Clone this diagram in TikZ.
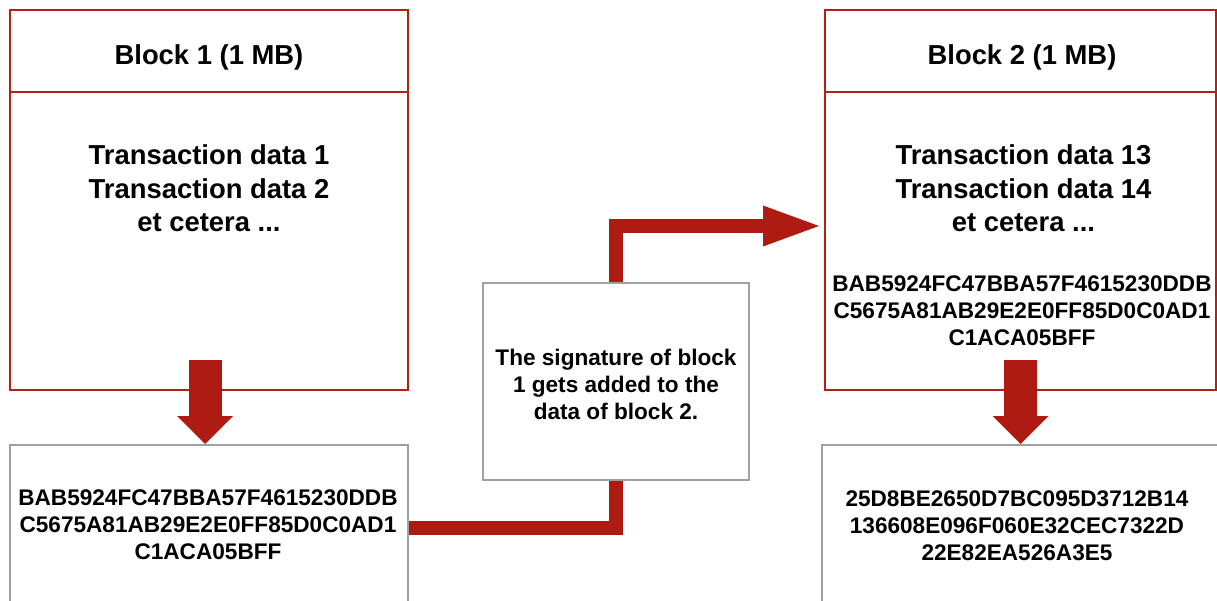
\documentclass[tikz,border=0pt]{standalone}
\usepackage{fontspec}
\setmainfont{Liberation Sans}
\usetikzlibrary{arrows.meta}
\definecolor{blockred}{RGB}{178,32,26}
\definecolor{arrowred}{RGB}{174,27,18}
\definecolor{framegray}{RGB}{160,160,160}
\tikzset{
  redbox/.style={draw=blockred, line width=2pt, fill=white, inner sep=0pt},
  graybox/.style={draw=framegray, line width=2pt, fill=white, inner sep=0pt},
  bigtxt/.style={font=\bfseries\fontsize{27.4}{33.5}\selectfont, align=center, inner sep=0pt},
  hashtxt/.style={font=\bfseries\fontsize{22.6}{27}\selectfont, align=center, inner sep=0pt},
  downarrow/.style={draw=arrowred, line width=33pt,
    -{Triangle[width=56pt,length=28pt,line width=0pt]}},
  linkline/.style={draw=arrowred, line width=14pt, line join=miter},
}
\begin{document}
\begin{tikzpicture}[x=1pt,y=-1pt]
\useasboundingbox (0,0) rectangle (1217,601);
\clip (0,0) rectangle (1217,601);

% block 1: header and body
\node[redbox, minimum width=398pt, minimum height=82pt]  (b1title) at (209,51) {};
\node[redbox, minimum width=398pt, minimum height=298pt] (b1body)  at (209,241) {};
% block 2: header and body
\node[redbox, minimum width=391pt, minimum height=82pt]  (b2title) at (1020.5,51) {};
\node[redbox, minimum width=391pt, minimum height=298pt] (b2body)  at (1020.5,241) {};
% hash boxes below each block
\node[graybox, minimum width=398pt, minimum height=166pt] (h1) at (209,528) {};
\node[graybox, minimum width=403pt, minimum height=166pt] (h2) at (1023.5,528) {};
% explanation box
\node[graybox, minimum width=266pt, minimum height=197pt] (sig) at (616,381.5) {};

% texts
\node[bigtxt] (t1) at (209,57) {Block 1 (1 MB)};
\node[bigtxt] (d1) at (209,188.5) {Transaction data 1\\Transaction data 2\\et cetera ...};
\node[hashtxt] (s1) at (208,524.5) {BAB5924FC47BBA57F4615230DDB\\C5675A81AB29E2E0FF85D0C0AD1\\C1ACA05BFF};
\node[bigtxt] (t2) at (1022,57) {Block 2 (1 MB)};
\node[bigtxt] (d2) at (1023.5,188.5) {Transaction data 13\\Transaction data 14\\et cetera ...};
\node[hashtxt] (p2) at (1022,311) {BAB5924FC47BBA57F4615230DDB\\C5675A81AB29E2E0FF85D0C0AD1\\C1ACA05BFF};
\node[hashtxt] (s2) at (1017,526) {25D8BE2650D7BC095D3712B14\\136608E096F060E32CEC7322D\\22E82EA526A3E5};
\node[hashtxt] (note) at (616,384) {The signature of block\\1 gets added to the\\data of block 2.};

% hashing arrows
\draw[downarrow] ([xshift=-4pt,yshift=31pt]b1body.south) -- ([xshift=-4pt]h1.north);
\draw[downarrow] ([yshift=31pt]b2body.south) -- (b2body.south |- h2.north);

% signature link from block 1 hash into block 2
\coordinate (entry) at (819,226);
\draw[linkline] (h1.east) -| (sig.south);
\draw[linkline, -{Triangle[width=41pt,length=56pt,line width=0pt]}] (sig.north) |- (entry);
\end{tikzpicture}
\end{document}
